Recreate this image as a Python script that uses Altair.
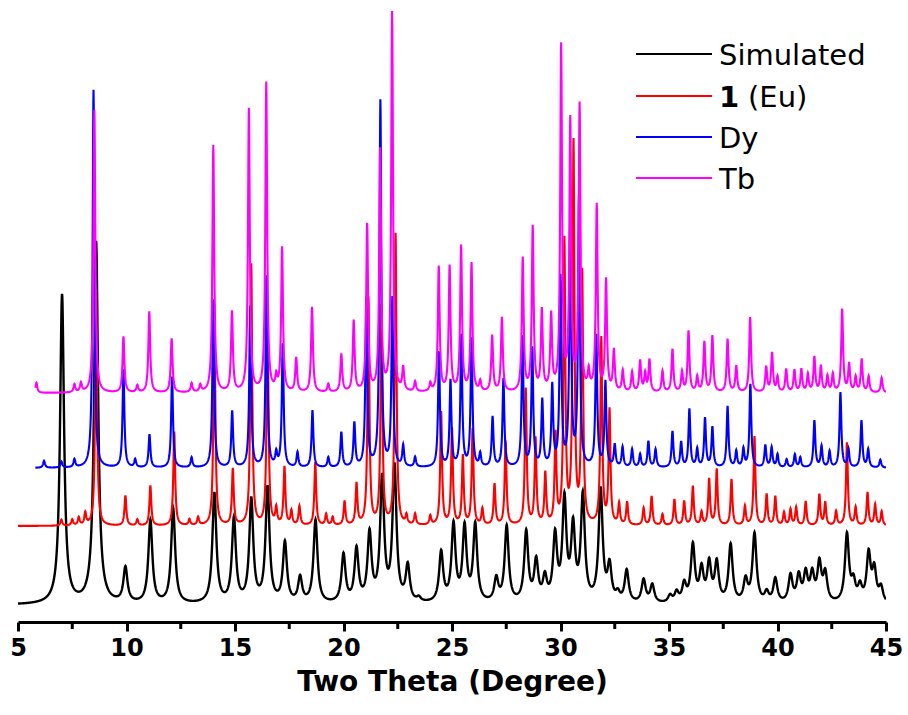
import numpy as np
import pandas as pd
import altair as alt

# ---------------- data (positions in degrees, tops in image px) ----
series_names = ["Simulated", "1 (Eu)", "Dy", "Tb"]
series_colors = ["#000000", "#FF0000", "#0000FF", "#FF00FF"]
series_start = [5.0, 5.0, 5.8, 5.8]
series_base_px = [605, 526, 468, 393]
series_hwhm = [0.11, 0.05, 0.05, 0.05]

sim_pos = [7.03, 8.6, 9.95, 11.1, 12.15, 14.05, 14.95, 15.75, 16.5, 17.3, 18.0, 18.71,
           20.0, 20.6, 21.2, 21.78, 22.35, 22.96, 23.47, 24.5, 25.07, 25.58, 26.07, 27.04,
           27.52, 28.42, 28.88, 29.28, 29.75, 30.18, 30.58, 31.03, 31.85, 32.26, 32.64,
           33.05, 33.83, 34.23, 35.05, 35.35, 35.7, 36.1, 36.5, 36.85, 37.2, 37.84, 38.53,
           38.94, 39.5, 39.9, 40.6, 40.98, 41.3, 41.6, 41.93, 42.2, 43.2, 43.5, 43.8, 44.2,
           44.46, 44.77]
sim_top = [296, 243, 570, 522, 510, 495, 521, 502, 490, 545, 580, 522,
           557, 552, 537, 482, 470, 569, 601, 555, 528, 531, 528, 582,
           529, 535, 565, 582, 540, 505, 533, 500, 493, 570, 597,
           573, 582, 587, 598, 595, 587, 548, 573, 567, 566, 547, 583,
           536, 595, 581, 578, 579, 577, 578, 567, 577, 537, 586, 590, 557,
           573, 590]

eu_pos = [7.0, 7.5, 7.8, 8.1, 8.6, 9.95, 10.5, 11.1, 12.2, 12.9, 13.3, 14.05, 14.9, 15.75,
          16.5, 16.9, 17.28, 17.6, 17.97, 18.7, 19.2, 19.5, 20.05, 20.6, 21.15, 21.75, 22.4,
          22.9, 23.3, 24.0, 24.5, 25.0, 25.5, 25.95, 26.4, 26.96, 27.47, 28.4, 28.85, 29.3,
          29.77, 30.18, 30.6, 31.0, 31.88, 32.26, 32.7, 33.07, 33.83, 34.2, 34.7, 35.25,
          35.7, 36.1, 36.5, 36.85, 37.2, 37.88, 38.5, 38.94, 39.5, 39.9, 40.3, 40.6, 40.86,
          41.3, 41.93, 42.2, 42.7, 43.2, 43.6, 44.15, 44.5, 44.8]
eu_top = [520, 520, 518, 514, 290, 496, 520, 486, 432, 520, 518, 305, 470, 265,
          312, 510, 468, 512, 507, 463, 515, 518, 502, 485, 299, 308, 235,
          517, 515, 517, 413, 430, 457, 430, 510, 485, 442, 390, 440, 475,
          437, 244, 147, 276, 340, 412, 505, 503, 509, 497, 515, 500,
          502, 487, 513, 480, 470, 480, 507, 437, 495, 497, 513, 510, 508,
          502, 495, 503, 512, 443, 508, 493, 505, 512]

dy_pos = [6.2, 7.0, 7.6, 8.48, 9.86, 10.4, 11.06, 12.1, 13.0, 14.0, 14.87, 15.7, 16.45,
          16.9, 17.2, 17.88, 18.57, 19.3, 19.9, 20.5, 21.05, 21.7, 22.25, 22.75, 23.3, 24.4,
          24.93, 25.43, 25.9, 26.3, 26.87, 27.37, 28.25, 28.7, 29.16, 29.62, 30.0, 30.45,
          30.85, 31.65, 32.07, 32.5, 32.86, 33.3, 33.67, 34.05, 34.38, 35.16, 35.56, 35.94,
          36.3, 36.66, 37.0, 37.7, 38.1, 38.43, 38.75, 39.44, 39.73, 40.0, 40.42, 40.8,
          41.05, 41.7, 42.03, 42.4, 42.9, 43.27, 43.87, 44.18, 44.74]
dy_top = [461, 462, 460, 90, 370, 460, 435, 377, 458, 300, 412, 307, 277,
          455, 345, 453, 411, 458, 433, 424, 300, 102, 300, 447, 458, 353,
          382, 337, 340, 455, 418, 380, 338, 350, 402, 388, 280, 220,
          200, 337, 383, 446, 448, 450, 455, 442, 450, 432, 443, 410,
          450, 419, 428, 407, 452, 450, 385, 446, 448, 455, 460, 455,
          458, 421, 447, 452, 393, 450, 421, 450, 460]

tb_pos = [5.85, 7.6, 7.9, 8.52, 9.86, 10.5, 11.05, 12.08, 13.0, 13.4, 14.0, 14.86, 15.64,
          16.44, 16.9, 17.17, 17.82, 18.55, 19.3, 19.9, 20.47, 21.09, 21.69, 22.24, 22.75,
          23.3, 24.0, 24.39, 24.89, 25.42, 25.9, 26.3, 26.85, 27.3, 28.26, 28.72, 29.14,
          29.57, 30.03, 30.45, 30.88, 31.3, 31.67, 32.1, 32.46, 32.87, 33.3, 33.67, 33.9,
          34.1, 34.7, 35.16, 35.6, 35.9, 36.3, 36.63, 37.0, 37.7, 38.1, 38.74, 39.48,
          39.75, 40.0, 40.4, 40.78, 41.1, 41.4, 41.7, 42.0, 42.3, 42.55, 42.98, 43.3, 43.6,
          43.88, 44.2, 44.8]
tb_top = [383, 385, 384, 110, 337, 386, 312, 339, 384, 386, 146, 313, 110,
          84, 380, 249, 359, 308, 385, 355, 322, 226, 152, 14, 370,
          383, 385, 268, 268, 248, 265, 383, 337, 319, 260, 229, 313,
          318, 49, 125, 108, 375, 207, 282, 352, 372, 373, 362, 375,
          361, 372, 350, 373, 332, 378, 343, 337, 340, 367, 318, 368,
          354, 378, 370, 371, 370, 375, 358, 367, 377, 375, 310, 365, 378,
          360, 377, 378]

minor_ticks = [7.5, 12.5, 17.5, 22.5, 27.5, 32.5, 37.5, 42.5]
major_ticks = [5, 10, 15, 20, 25, 30, 35, 40, 45]

AXIS_PX = 622  # pixel row of the x axis line in the picture

peak_pos = [sim_pos, eu_pos, dy_pos, tb_pos]
peak_top = [sim_top, eu_top, dy_top, tb_top]

# ---------------- build profiles (Lorentzian peaks on each baseline) ----------------
frames = []
for name, start, base, g, pos, top in zip(series_names, series_start, series_base_px,
                                           series_hwhm, peak_pos, peak_top):
    x = np.round(np.arange(start, 45.0001, 0.01), 3)
    y = np.full_like(x, float(AXIS_PX - base))
    for p, t in zip(pos, top):
        h = base - t
        y += h / (1.0 + ((x - p) / g) ** 2)
    frames.append(pd.DataFrame({"x": x, "y": y, "series": name}))

W, H = 868, 617
FONT = "DejaVu Sans"
xscale = alt.Scale(domain=[5, 45], nice=False, zero=False)
yscale = alt.Scale(domain=[0, H], nice=False, zero=False)

x_axis = alt.Axis(values=major_ticks, title="Two Theta (Degree)", grid=False,
                  domainColor="black", domainWidth=3, tickColor="black",
                  tickWidth=3, tickSize=9, labelFont=FONT,
                  labelFontSize=24, labelFontWeight="bold", labelColor="black",
                  labelPadding=5, labelFlush=False, labelOverlap=False,
                  titleFont=FONT, titleFontSize=28,
                  titleFontWeight="bold", titleColor="black", titlePadding=8)

layers = []
for i, (df, col) in enumerate(zip(frames, series_colors)):
    layers.append(
        alt.Chart(df).mark_line(color=col, strokeWidth=2.4 if i == 0 else 2.1,
                                clip=True).encode(
            x=alt.X("x:Q", scale=xscale, axis=x_axis),
            y=alt.Y("y:Q", scale=yscale, axis=None),
        )
    )

# minor ticks below the axis
minor_df = pd.DataFrame({"x": minor_ticks})
layers.append(
    alt.Chart(minor_df).mark_rule(color="black", strokeWidth=3).encode(
        x=alt.X("x:Q", scale=xscale, axis=x_axis),
        y=alt.value(H),
        y2=alt.value(H + 7),
    )
)

# legend drawn by hand (bold "1")
leg_y = [49, 91, 132, 173]
LEG_FS = 29
for i, (name, col) in enumerate(zip(series_names, series_colors)):
    layers.append(
        alt.Chart(pd.DataFrame({"s": [name]})).mark_rule(color=col, strokeWidth=2).encode(
            x=alt.value(618), x2=alt.value(694), y=alt.value(leg_y[i]))
    )
    if name.startswith("1 "):
        layers.append(
            alt.Chart(pd.DataFrame({"t": ["1"]})).mark_text(
                align="left", baseline="alphabetic", font=FONT,
                fontSize=LEG_FS, fontWeight="bold", color="black").encode(
                text="t:N", x=alt.value(701), y=alt.value(leg_y[i] + 11))
        )
        layers.append(
            alt.Chart(pd.DataFrame({"t": [name[2:]]})).mark_text(
                align="left", baseline="alphabetic", font=FONT,
                fontSize=LEG_FS, color="black").encode(
                text="t:N", x=alt.value(730), y=alt.value(leg_y[i] + 11))
        )
    else:
        layers.append(
            alt.Chart(pd.DataFrame({"t": [name]})).mark_text(
                align="left", baseline="alphabetic", font=FONT,
                fontSize=LEG_FS, color="black").encode(
                text="t:N", x=alt.value(701), y=alt.value(leg_y[i] + 11))
        )

chart = alt.layer(*layers).properties(
    width=W, height=H,
    autosize=alt.AutoSizeParams(type="none"),
    padding={"left": 18, "top": 5, "right": 22, "bottom": 93},
    background="white",
).configure_view(stroke=None)

chart.save("out.html", embed_options={"renderer": "svg", "actions": False})
